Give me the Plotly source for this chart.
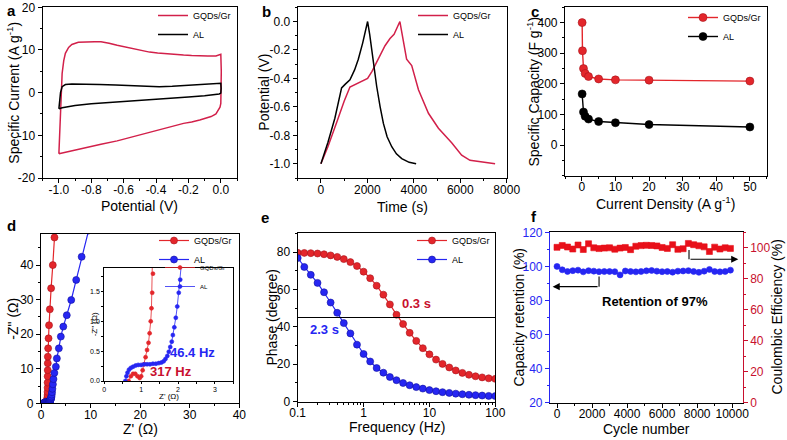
import plotly.graph_objects as go

FONT = "Liberation Sans, Arial, Helvetica, sans-serif"
W, H = 787, 440

RED_A = "#d2204a"     # GQDs/Gr line colour in a, b
RED = "#e3262b"       # red markers
RED_EDGE = "#a8141c"
CRIMSON = "#c8102e"
BLUE = "#2626f2"
BLUE_EDGE = "#1010a0"

# ---------------- (a) cyclic voltammetry ----------------
cv_gr_potential = [-1.00, -0.995, -0.99, -0.985, -0.98, -0.97, -0.96, -0.94, -0.92, -0.88,
                   -0.83, -0.78, -0.74, -0.69, -0.64, -0.59, -0.54, -0.49, -0.44, -0.39,
                   -0.34, -0.29, -0.23, -0.18, -0.13, -0.08, -0.03, -0.01, 0.00, 0.003,
                   0.003, 0.0, -0.005, -0.015, -0.03, -0.06, -0.09, -0.13, -0.18, -0.23,
                   -0.30, -0.38, -0.44, -0.50, -0.56, -0.64, -0.74, -0.84, -0.92, -0.97, -1.00]
cv_gr_current = [-14.3, -10.0, -4.0, 1.0, 4.5, 7.5, 9.2, 10.6, 11.3, 11.8,
                 11.9, 11.95, 11.9, 11.6, 11.1, 10.7, 10.2, 9.9, 9.5, 9.3,
                 9.1, 8.9, 8.8, 8.7, 8.6, 8.6, 8.6, 8.8, 9.0, 5.0,
                 -1.0, -2.5, -3.4, -4.2, -5.0, -5.6, -6.0, -6.4, -6.9, -7.2,
                 -7.9, -8.7, -9.3, -9.9, -10.5, -11.3, -12.1, -12.9, -13.5, -14.0, -14.3]
cv_al_potential = [-1.00, -0.995, -0.99, -0.98, -0.96, -0.92, -0.85, -0.75, -0.65, -0.55,
                   -0.45, -0.38, -0.30, -0.20, -0.10, -0.02, 0.00, 0.002, 0.0, -0.01,
                   -0.05, -0.10, -0.20, -0.30, -0.40, -0.50, -0.60, -0.70, -0.80, -0.90,
                   -0.95, -0.98, -1.00]
cv_al_current = [-3.8, -2.0, 0.0, 1.4, 1.9, 2.0, 2.0, 1.9, 1.8, 1.6,
                 1.45, 1.4, 1.5, 1.7, 1.9, 2.1, 2.2, 1.0, -0.1, -0.3,
                 -0.5, -0.7, -1.0, -1.25, -1.5, -1.7, -2.0, -2.25, -2.6, -3.0,
                 -3.3, -3.55, -3.8]

# ---------------- (b) charge / discharge ----------------
gcd_gr_time = [0, 300, 700, 1000, 1250, 1500, 1750, 2010, 2200, 2330, 2550, 2760, 2975,
               3150, 3400, 3550, 3690, 3910, 4200, 4630, 5060, 5630, 6060, 6420, 7500]
gcd_gr_potential = [-1.0, -0.88, -0.70, -0.56, -0.46, -0.44, -0.42, -0.40, -0.35, -0.31,
                    -0.24, -0.17, -0.12, -0.09, 0.0, -0.15, -0.265, -0.31, -0.48, -0.645,
                    -0.75, -0.853, -0.94, -0.976, -1.0]
gcd_al_time = [0, 300, 600, 890, 1050, 1250, 1450, 1610, 1800, 2010, 2100, 2180, 2300,
               2400, 2550, 2690, 2850, 3050, 3250, 3480, 3800, 4100]
gcd_al_potential = [-1.0, -0.85, -0.68, -0.467, -0.44, -0.41, -0.34, -0.265, -0.15, 0.0,
                    -0.09, -0.19, -0.33, -0.455, -0.60, -0.716, -0.81, -0.88, -0.93, -0.964,
                    -0.99, -1.0]

# ---------------- (c) rate capability ----------------
rate_gr_density = [0.1, 0.2, 0.5, 1, 2, 5, 10, 20, 50]
rate_gr_capacity = [400, 308, 250, 234, 224, 216, 213, 212, 209]
rate_al_density = [0.1, 0.5, 1, 2, 5, 10, 20, 50]
rate_al_capacity = [167, 108, 94, 85, 77, 73, 67, 59]

# ---------------- (d) Nyquist ----------------
nyq_gr_re = [0.66, 0.72, 0.78, 0.84, 0.90, 0.96, 1.00, 1.04, 1.08, 1.12,
             1.16, 1.20, 1.23, 1.26, 1.28, 1.30, 1.32, 1.33, 1.33, 1.34,
             1.34, 1.35, 1.36, 1.37, 1.38, 1.44, 1.52, 1.62, 1.78, 2.04,
             2.38, 2.72]
nyq_gr_im = [0.00, 0.08, 0.12, 0.12, 0.08, 0.05, 0.08, 0.18, 0.28, 0.40,
             0.52, 0.64, 0.80, 1.00, 1.22, 1.48, 1.80, 2.4, 3.3, 4.5,
             6.0, 7.8, 9.6, 11.6, 13.5, 15.9, 18.8, 22.6, 27.2, 33.3,
             40.0, 48.0]
nyq_al_re = [0.57, 0.60, 0.63, 0.67, 0.72, 0.78, 0.85, 0.92, 1.00, 1.08,
             1.16, 1.24, 1.32, 1.40, 1.48, 1.55, 1.61, 1.66, 1.71, 1.75,
             1.79, 1.83, 1.86, 1.90, 1.94, 1.98, 2.02, 2.06, 2.10, 2.16,
             2.22, 2.30, 2.40, 2.52, 2.70, 3.00, 3.20, 3.60, 4.00, 4.50,
             5.20, 6.10, 7.10, 8.20, 9.60]
nyq_al_im = [0.00, 0.08, 0.14, 0.19, 0.22, 0.24, 0.26, 0.27, 0.27, 0.28,
             0.28, 0.28, 0.29, 0.29, 0.30, 0.31, 0.33, 0.37, 0.42, 0.49,
             0.57, 0.66, 0.77, 0.90, 1.06, 1.25, 1.48, 1.70, 1.95, 2.5,
             3.2, 4.2, 5.5, 7.0, 8.8, 10.6, 13.0, 15.9, 19.3, 22.2,
             25.5, 29.9, 35.7, 42.4, 50.0]

# ---------------- (e) Bode phase ----------------
bode_freq = [0.1, 0.126, 0.158, 0.2, 0.251, 0.316, 0.398, 0.501, 0.631, 0.794,
             1.0, 1.26, 1.58, 2.0, 2.51, 3.16, 3.98, 5.01, 6.31, 7.94,
             10, 12.6, 15.8, 20, 25.1, 31.6, 39.8, 50.1, 63.1, 79.4, 100]
bode_gr_phase = [79.6, 79.5, 79.4, 79.2, 78.8, 78.2, 77.4, 76.2, 74.6, 72.5,
                 69.5, 66.0, 62.0, 57.2, 52.0, 46.5, 41.5, 36.8, 32.5, 28.6,
                 25.3, 22.5, 20.2, 18.3, 16.7, 15.4, 14.4, 13.6, 13.0, 12.5, 12.2]
bode_al_phase = [76.8, 72.0, 67.8, 63.5, 58.5, 53.0, 47.5, 42.0, 36.5, 30.5,
                 25.5, 21.5, 18.0, 15.5, 13.2, 11.5, 10.0, 8.8, 7.8, 7.0,
                 6.2, 5.6, 5.1, 4.7, 4.3, 4.0, 3.7, 3.5, 3.3, 3.1, 3.0]

# ---------------- (f) cycling ----------------
cycle_number = [0, 300, 600, 900, 1200, 1500, 1800, 2100, 2400, 2700,
                3000, 3300, 3600, 3900, 4200, 4500, 4800, 5100, 5400, 5700,
                6000, 6300, 6600, 6900, 7200, 7500, 7800, 8100, 8400, 8700,
                9000, 9300, 9600, 9900]
capacity_retention = [100.0, 98.0, 97.0, 97.5, 97.8, 96.8, 97.5, 97.2, 96.9, 97.0,
                      97.0, 96.9, 95.0, 97.3, 97.0, 96.8, 97.0, 97.4, 97.6, 97.2,
                      96.9, 97.0, 96.6, 97.2, 97.3, 97.5, 97.0, 96.5, 97.2, 98.2,
                      97.0, 96.8, 97.0, 97.8]
coulombic_eff = [100.3, 101.5, 100.5, 99.2, 101.8, 98.9, 102.6, 100.0, 99.5, 99.8,
                 100.0, 99.1, 99.8, 100.2, 98.8, 101.0, 101.4, 101.6, 101.5, 101.2,
                 100.2, 99.6, 102.0, 99.0, 99.4, 102.8, 102.0, 101.3, 100.6, 97.6,
                 100.4, 99.2, 100.0, 99.6]

# ---------------- tick labels ----------------
a_xt = [-1.0, -0.8, -0.6, -0.4, -0.2, 0.0]
a_xl = ["-1.0", "-0.8", "-0.6", "-0.4", "-0.2", "0.0"]
a_yt = [-20, -10, 0, 10, 20]
a_yl = ["-20", "-10", "0", "10", "20"]
b_xt = [0, 2000, 4000, 6000, 8000]
b_xl = ["0", "2000", "4000", "6000", "8000"]
b_yt = [-1.0, -0.8, -0.6, -0.4, -0.2, 0.0]
b_yl = ["-1.0", "-0.8", "-0.6", "-0.4", "-0.2", "0.0"]
c_xt = [0, 10, 20, 30, 40, 50]
c_xl = ["0", "10", "20", "30", "40", "50"]
c_yt = [0, 100, 200, 300, 400]
c_yl = ["0", "100", "200", "300", "400"]
d_xt = [0, 10, 20, 30, 40]
d_xl = ["0", "10", "20", "30", "40"]
d_yt = [0, 10, 20, 30, 40]
d_yl = ["0", "10", "20", "30", "40"]
in_xt = [0, 1, 2, 3]
in_xl = ["0", "1", "2", "3"]
in_yt = [0.0, 0.5, 1.0, 1.5]
in_yl = ["0.0", "0.5", "1.0", "1.5"]
e_xt = [0.1, 1, 10, 100]
e_xl = ["0.1", "1", "10", "100"]
e_yt = [0, 20, 40, 60, 80]
e_yl = ["0", "20", "40", "60", "80"]
f_xt = [0, 2000, 4000, 6000, 8000, 10000]
f_xl = ["0", "2000", "4000", "6000", "8000", "10000"]
f_ylt = [20, 40, 60, 80, 100, 120]
f_yll = ["20", "40", "60", "80", "100", "120"]
f_yrt = [0, 20, 40, 60, 80, 100]
f_yrl = ["0", "20", "40", "60", "80", "100"]


def px_x(p):
    return p / W


def px_y(p):
    return 1 - p / H


fig = go.Figure()


def add(x, y, name, xa, ya, legend, color, mode="lines", width=1.4, msize=6,
        msymbol="circle", edge=None, showlegend=True):
    tr = dict(x=x, y=y, name=name, xaxis=xa, yaxis=ya, mode=mode,
              legend=legend, showlegend=showlegend,
              line=dict(color=color, width=width))
    if "markers" in mode:
        tr["marker"] = dict(color=color, size=msize, symbol=msymbol,
                            line=dict(color=edge or color, width=0.6))
    fig.add_trace(go.Scatter(**tr))


# a
add(cv_gr_potential, cv_gr_current, "GQDs/Gr", "x", "y", "legend", RED_A, width=1.5)
add(cv_al_potential, cv_al_current, "AL", "x", "y", "legend", "black", width=1.5)
# b
add(gcd_gr_time, gcd_gr_potential, "GQDs/Gr", "x2", "y2", "legend2", RED_A, width=1.5)
add(gcd_al_time, gcd_al_potential, "AL", "x2", "y2", "legend2", "black", width=1.5)
# c
add(rate_gr_density, rate_gr_capacity, "GQDs/Gr", "x3", "y3", "legend3", RED,
    mode="lines+markers", msize=8, edge=RED_EDGE, width=1.4)
add(rate_al_density, rate_al_capacity, "AL", "x3", "y3", "legend3", "black",
    mode="lines+markers", msize=8, edge="black", width=1.4)
# d main
add(nyq_gr_re, nyq_gr_im, "GQDs/Gr", "x4", "y4", "legend4", RED,
    mode="lines+markers", msize=7, edge=RED_EDGE, width=1.2)
add(nyq_al_re, nyq_al_im, "AL", "x4", "y4", "legend4", BLUE,
    mode="lines+markers", msize=7, edge=BLUE_EDGE, width=1.2)
# d inset
add(nyq_gr_re, nyq_gr_im, "GQDs/Gr", "x5", "y5", "legend5", RED,
    mode="lines+markers", msize=4, edge=RED, width=0.8)
add(nyq_al_re, nyq_al_im, "AL", "x5", "y5", "legend5", BLUE,
    mode="lines+markers", msize=4, edge=BLUE, width=0.8)
# e
add(bode_freq, bode_gr_phase, "GQDs/Gr", "x6", "y6", "legend6", RED,
    mode="lines+markers", msize=7, edge=RED_EDGE, width=1.2)
add(bode_freq, bode_al_phase, "AL", "x6", "y6", "legend6", BLUE,
    mode="lines+markers", msize=7, edge=BLUE_EDGE, width=1.2)
# f
add(cycle_number, capacity_retention, "Capacity retention", "x7", "y7", "legend",
    BLUE, mode="lines+markers", msize=6, edge=BLUE, width=1.0, showlegend=False)
add(cycle_number, coulombic_eff, "Coulombic efficiency", "x7", "y8", "legend",
    "#e8101a", mode="lines+markers", msize=6, msymbol="square", edge="#e8101a",
    width=1.0, showlegend=False)

TICKF = dict(family=FONT, size=12, color="black")
TITLEF = dict(family=FONT, size=14, color="black")


def axis(dom, rng, tv, tt, anchor, minor_d, minor0=0, color="black", tickfont=None,
         ticklen=4, mirror=True, typ="linear", minor_vals=None, standoff=0):
    d = dict(domain=dom, range=rng, tickmode="array", tickvals=tv, ticktext=tt,
             ticks="outside", ticklen=ticklen, tickwidth=1, tickcolor=color,
             showline=True, linecolor=color, linewidth=1.1, mirror=mirror,
             showgrid=False, zeroline=False, anchor=anchor, automargin=False,
             tickfont=tickfont or dict(TICKF, color=color), type=typ,
             ticklabelstandoff=standoff)
    if minor_vals is not None:
        d["minor"] = dict(tickmode="array", tickvals=minor_vals, ticks="outside",
                          ticklen=max(2, ticklen - 2), tickcolor=color, showgrid=False)
    elif minor_d:
        d["minor"] = dict(tickmode="linear", tick0=minor0, dtick=minor_d,
                          ticks="outside", ticklen=max(2, ticklen - 2),
                          tickcolor=color, showgrid=False)
    return d


# plot-area boxes in pixels: (left, right, top, bottom)
BOX_A = (42.7, 237, 7.3, 178)
BOX_B = (297.7, 506.7, 7.3, 178)
BOX_C = (565, 766.7, 7.3, 175.7)
BOX_D = (41, 239.3, 234, 403.3)
BOX_IN = (104.3, 233.3, 267.7, 381)
BOX_E = (297.7, 495.3, 233.3, 401.7)
BOX_F = (550, 742.7, 232.3, 402.7)


def xd(b):
    return [px_x(b[0]), px_x(b[1])]


def yd(b):
    return [px_y(b[3]), px_y(b[2])]


lay = dict(
    width=W, height=H, margin=dict(l=0, r=0, t=0, b=0),
    paper_bgcolor="white", plot_bgcolor="white",
    font=dict(family=FONT, color="black"), hovermode=False,
)

SMALLT = dict(family=FONT, size=7, color="black")
e_minor = [0.2, 0.3, 0.4, 0.5, 0.6, 0.7, 0.8, 0.9, 2, 3, 4, 5, 6, 7, 8, 9,
           20, 30, 40, 50, 60, 70, 80, 90]
XS = -4  # pull x tick labels a little closer to the axis

lay["xaxis"] = axis(xd(BOX_A), [-1.1, 0.1], a_xt, a_xl, "y", 0.1, standoff=XS)
lay["yaxis"] = axis(yd(BOX_A), [-20, 20], a_yt, a_yl, "x", 5)
lay["xaxis2"] = axis(xd(BOX_B), [-1000, 8000], b_xt, b_xl, "y2", 1000, standoff=XS)
lay["yaxis2"] = axis(yd(BOX_B), [-1.1, 0.1], b_yt, b_yl, "x2", 0.1)
lay["xaxis3"] = axis(xd(BOX_C), [-5, 55], c_xt, c_xl, "y3", 5, standoff=XS)
lay["yaxis3"] = axis(yd(BOX_C), [-100, 450], c_yt, c_yl, "x3", 50)
lay["xaxis4"] = axis(xd(BOX_D), [0, 40], d_xt, d_xl, "y4", 5, standoff=XS)
lay["yaxis4"] = axis(yd(BOX_D), [0, 49], d_yt, d_yl, "x4", 5)
lay["xaxis5"] = axis(xd(BOX_IN), [0, 3.5], in_xt, in_xl, "y5", 0.5, tickfont=SMALLT, ticklen=2,
                     standoff=-1)
lay["yaxis5"] = axis(yd(BOX_IN), [0, 1.9], in_yt, in_yl, "x5", 0.25, tickfont=SMALLT, ticklen=2)
lay["xaxis6"] = axis(xd(BOX_E), [-1, 2], e_xt, e_xl, "y6", None, typ="log", minor_vals=e_minor,
                     standoff=XS)
lay["yaxis6"] = axis(yd(BOX_E), [0, 90], e_yt, e_yl, "x6", 10)
lay["xaxis7"] = axis(xd(BOX_F), [-400, 10600], f_xt, f_xl, "y7", 1000, standoff=XS)
lay["yaxis7"] = axis(yd(BOX_F), [20, 120], f_ylt, f_yll, "x7", 10, color=BLUE, mirror=False)
lay["yaxis8"] = axis(yd(BOX_F), [0, 110], f_yrt, f_yrl, "x7", 10, color=CRIMSON, mirror=False)
lay["yaxis8"]["overlaying"] = "y7"
lay["yaxis8"]["side"] = "right"


def legend(xr, ytop, size=9):
    return dict(x=px_x(xr), y=px_y(ytop), xanchor="right", yanchor="top",
                bgcolor="rgba(0,0,0,0)", borderwidth=0, itemwidth=30,
                tracegroupgap=0, font=dict(family=FONT, size=size, color="black"))


lay["legend"] = legend(236, 1)
lay["legend2"] = legend(496, 1)
lay["legend3"] = legend(766, 3)
lay["legend4"] = legend(237, 226)
lay["legend5"] = legend(231, 253, size=6)
lay["legend6"] = legend(495, 226)

ann = []
for letter, cx, ctop in [("a", 11, 0), ("b", 266, 1), ("c", 535, 1),
                         ("d", 11, 215), ("e", 265, 207), ("f", 534, 206)]:
    ann.append(dict(text="<b>%s</b>" % letter, x=px_x(cx), y=px_y(ctop), xref="paper", yref="paper",
                    xanchor="center", yanchor="top", showarrow=False,
                    font=dict(family=FONT, size=15, color="black")))


def xtitle(text, box, cy, font=TITLEF):
    return dict(text=text, x=px_x((box[0] + box[1]) / 2), y=px_y(cy), xref="paper", yref="paper",
                xanchor="center", yanchor="middle", showarrow=False, font=font)


def ytitle(text, box, cx, font=TITLEF):
    return dict(text=text, x=px_x(cx), y=px_y((box[2] + box[3]) / 2), xref="paper", yref="paper",
                xanchor="center", yanchor="middle", showarrow=False, textangle=-90, font=font)


SMALLTT = dict(family=FONT, size=8, color="black")
ann += [
    xtitle("Potential (V)", BOX_A, 206),
    ytitle("Specific Current (A g<sup>-1</sup>)", BOX_A, 13),
    xtitle("Time (s)", BOX_B, 207),
    ytitle("Potential (V)", BOX_B, 264),
    xtitle("Current Density (A g<sup>-1</sup>)", BOX_C, 203),
    ytitle("Specific Capacity (F g<sup>-1</sup>)", BOX_C, 533),
    xtitle("Z' (Ω)", BOX_D, 429),
    ytitle('-Z" (Ω)', BOX_D, 13),
    xtitle("Z' (Ω)", BOX_IN, 396, SMALLTT),
    ytitle('-Z" (Ω)', BOX_IN, 94, SMALLTT),
    xtitle("Frequency (Hz)", BOX_E, 427),
    ytitle("Phase (degree)", BOX_E, 271),
    xtitle("Cycle number", BOX_F, 429),
    ytitle("Capacity retention (%)", BOX_F, 518),
    ytitle("Coulombic Efficiency (%)", BOX_F, 776),
]

BOLD13 = dict(family=FONT, size=13)
ann += [
    dict(text="<b>46.4 Hz</b>", x=2.4, y=0.47, xref="x5", yref="y5", showarrow=False,
         font=dict(BOLD13, color=BLUE)),
    dict(text="<b>317 Hz</b>", x=1.82, y=0.16, xref="x5", yref="y5", showarrow=False,
         font=dict(BOLD13, color=CRIMSON)),
    dict(text="<b>0.3 s</b>", x=0.806, y=52.3, xref="x6", yref="y6", showarrow=False,
         font=dict(BOLD13, color=CRIMSON)),
    dict(text="<b>2.3 s</b>", x=-0.6, y=38.4, xref="x6", yref="y6", showarrow=False,
         font=dict(BOLD13, color=BLUE)),
    dict(text="<b>Retention of 97%</b>", x=5600, y=79.3, xref="x7", yref="y7", showarrow=False,
         font=dict(BOLD13, color="black")),
    # arrows in f
    dict(text="", x=-250, y=88.1, xref="x7", yref="y7", ax=2400, ay=88.1, axref="x7", ayref="y7",
         showarrow=True, arrowhead=2, arrowsize=1.3, arrowwidth=1.1, arrowcolor="black"),
    dict(text="", x=10350, y=92.6, xref="x7", yref="y8", ax=7535, ay=92.6, axref="x7", ayref="y8",
         showarrow=True, arrowhead=2, arrowsize=1.3, arrowwidth=1.1, arrowcolor="black"),
]
lay["annotations"] = ann

lay["shapes"] = [
    dict(type="line", xref="x6 domain", yref="y6", x0=0, x1=1, y0=45, y1=45,
         line=dict(color="black", width=1.2)),
    dict(type="line", xref="x7", yref="y7", x0=2400, x1=2400, y0=94.0, y1=88.1,
         line=dict(color="black", width=1.1)),
    dict(type="line", xref="x7", yref="y8", x0=7535, x1=7535, y0=98.6, y1=92.6,
         line=dict(color="black", width=1.1)),
]

fig.update_layout(**lay)
fig.write_html("out.html", config={"displayModeBar": False, "staticPlot": True},
               post_script="document.body.style.margin='0';document.body.style.overflow='hidden';")
